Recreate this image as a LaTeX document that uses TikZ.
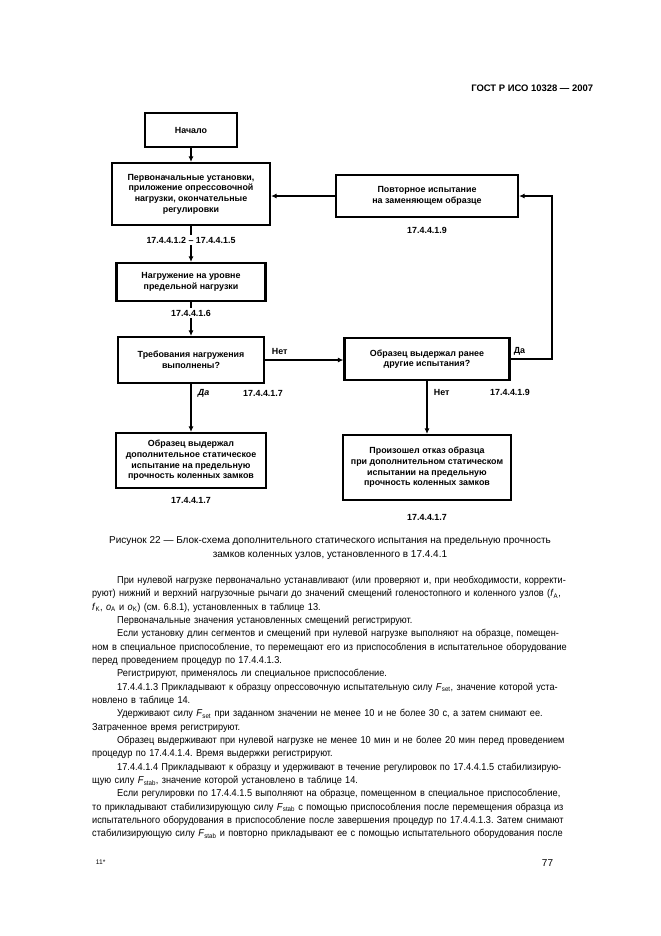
\documentclass[tikz,border=0pt]{standalone}
\usepackage{fontspec}
\setmainfont{Liberation Sans}
\newfontfamily\bodyfont[FakeStretch=0.92]{Liberation Sans}
\usetikzlibrary{arrows.meta}
\frenchspacing

\newcommand{\jline}[1]{\makebox[\linewidth][s]{#1}}
\newcommand{\ind}{\hspace*{22.5pt}}
\newcommand{\fsub}[2]{\textit{#1}\textsubscript{#2}}

\begin{document}
\begin{tikzpicture}[x=0.9pt,y=-0.9pt,
  box/.style={draw,line width=1.9pt,align=center,inner sep=2pt,
    font=\bfseries\fontsize{8}{9.6}\selectfont},
  numlab/.style={font=\bfseries\fontsize{8}{9.6}\selectfont,inner sep=1.5pt},
  flow/.style={line width=1.7pt,-{Latex[length=5pt,width=4.5pt]}}]
\fill[white] (0,0) rectangle (661,936);
\useasboundingbox (0,0) rectangle (661,936);

% header
\node[anchor=east,font=\bfseries\fontsize{8.5}{10}\selectfont] (head) at (597,88) {ГОСТ Р ИСО 10328 — 2007};

% flowchart
\node[box, minimum width=82.8pt, minimum height=30.6pt] (start) at (191,130) {Начало};
\node[box, minimum width=142.2pt, minimum height=55.8pt] (setup) at (191,194)
  {Первоначальные установки,\\ приложение опрессовочной\\ нагрузки, окончательные\\ регулировки};
\node[box, minimum width=134.1pt, minimum height=34.2pt] (preload) at (191,282)
  {Нагружение на уровне\\ предельной нагрузки};
\node[box, minimum width=131.4pt, minimum height=41.4pt] (check) at (191,360)
  {Требования нагружения\\ выполнены?};
\node[box, minimum width=148.5pt, minimum height=37.8pt] (prior) at (427,359)
  {Образец выдержал ранее\\ другие испытания?};
\node[box, minimum width=163.8pt, minimum height=37.8pt] (retest) at (427,196)
  {Повторное испытание\\ на заменяющем образце};
\node[box, minimum width=135pt, minimum height=49.5pt] (passed) at (191,460.5)
  {Образец выдержал\\ дополнительное статическое\\ испытание на предельную\\ прочность коленных замков};
\node[box, minimum width=151.2pt, minimum height=58.5pt] (failed) at (427,467.5)
  {Произошел отказ образца\\ при дополнительном статическом\\ испытании на предельную\\ прочность коленных замков};
\coordinate (turn) at (552,359);

\path[draw,flow] (start) -- (setup);
\path[draw,flow] (setup) -- (preload);
\path[draw,flow] (preload) -- (check);
\path[draw,flow] (check) -- (passed);
\path[draw,flow] (check.east) -- (prior.west |- check.east);
\path[draw,flow] (prior) -- (failed);
\path[draw,flow] (prior.east) -- (prior.east -| turn) |- (retest.east);
\path[draw,flow] (retest.west) -- (retest.west -| setup.east);

\node[numlab, fill=white] (ref1) at (191,240) {17.4.4.1.2 – 17.4.4.1.5};
\node[numlab, fill=white] (ref2) at (191,313) {17.4.4.1.6};
\node[numlab, anchor=west] (yes1) at (196,393) {\textit{Да}};
\node[numlab] (ref3) at (263,393) {17.4.4.1.7};
\node[numlab, anchor=south west] (no1) at (270,356) {Нет};
\node[numlab, anchor=west] (no2) at (432,392) {Нет};
\node[numlab] (ref4) at (510,392) {17.4.4.1.9};
\node[numlab, anchor=south west] (yes2) at (512,357) {Да};
\node[numlab] (ref5) at (427,230) {17.4.4.1.9};
\node[numlab] (ref6) at (191,500) {17.4.4.1.7};
\node[numlab] (ref7) at (427,517) {17.4.4.1.7};

% caption
\node[align=center, font=\fontsize{9}{12.6}\selectfont] (caption) at (330,548)
  {Рисунок 22 — Блок-схема дополнительного статического испытания на предельную прочность\\
   замков коленных узлов, установленного в 17.4.4.1};

% body text
\node[anchor=north west, inner sep=0pt, text width=417.6pt, align=left,
  font=\bodyfont\fontsize{9}{12}\selectfont] (body) at (92,576) {%
\jline{\ind При нулевой нагрузке первоначально устанавливают (или проверяют и, при необходимости, корректи-}\\
\jline{руют) нижний и верхний нагрузочные рычаги до значений смещений голеностопного и коленного узлов (\fsub{f}{A},}\\
\fsub{f}{K}, \fsub{o}{A} и \fsub{o}{K}) (см. 6.8.1), установленных в таблице 13.\\
\ind Первоначальные значения установленных смещений регистрируют.\\
\jline{\ind Если установку длин сегментов и смещений при нулевой нагрузке выполняют на образце, помещен-}\\
\jline{ном в специальное приспособление, то перемещают его из приспособления в испытательное оборудование}\\
перед проведением процедур по 17.4.4.1.3.\\
\ind Регистрируют, применялось ли специальное приспособление.\\
\jline{\ind 17.4.4.1.3 Прикладывают к образцу опрессовочную испытательную силу \fsub{F}{set}, значение которой уста-}\\
новлено в таблице 14.\\
\jline{\ind Удерживают силу \fsub{F}{set} при заданном значении не менее 10 и не более 30 с, а затем снимают ее.}\\
Затраченное время регистрируют.\\
\jline{\ind Образец выдерживают при нулевой нагрузке не менее 10 мин и не более 20 мин перед проведением}\\
процедур по 17.4.4.1.4. Время выдержки регистрируют.\\
\jline{\ind 17.4.4.1.4 Прикладывают к образцу и удерживают в течение регулировок по 17.4.4.1.5 стабилизирую-}\\
щую силу \fsub{F}{stab}, значение которой установлено в таблице 14.\\
\jline{\ind Если регулировки по 17.4.4.1.5 выполняют на образце, помещенном в специальное приспособление,}\\
\jline{то прикладывают стабилизирующую силу \fsub{F}{stab} с помощью приспособления после перемещения образца из}\\
\jline{испытательного оборудования в приспособление после завершения процедур по 17.4.4.1.3. Затем снимают}\\
\jline{стабилизирующую силу \fsub{F}{stab} и повторно прикладывают ее с помощью испытательного оборудования после}};

% footer
\node[anchor=west, font=\fontsize{6}{7}\selectfont] (sheet) at (92,862) {11*};
\node[anchor=east, font=\fontsize{9}{10}\selectfont] (page) at (557,863) {77};
\end{tikzpicture}
\end{document}
